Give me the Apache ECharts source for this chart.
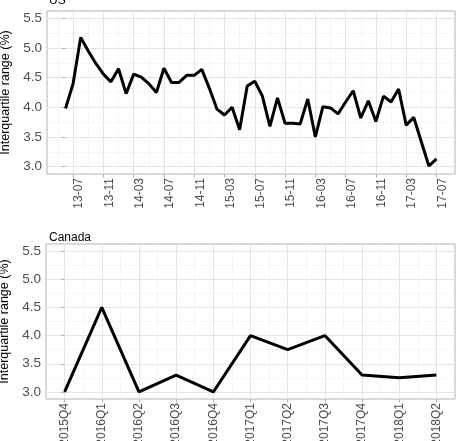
<!DOCTYPE html>
<html>
<head>
<meta charset="utf-8">
<script src="https://cdn.jsdelivr.net/npm/echarts@6/dist/echarts.min.js"></script>
<style>html,body{margin:0;padding:0;background:#fff}#c{width:460px;height:441px}</style>
</head>
<body>
<div id="c"></div>
<script>
const usMonths = ['13-06','13-07','13-08','13-09','13-10','13-11','13-12',
  '14-01','14-02','14-03','14-04','14-05','14-06','14-07','14-08','14-09','14-10','14-11','14-12',
  '15-01','15-02','15-03','15-04','15-05','15-06','15-07','15-08','15-09','15-10','15-11','15-12',
  '16-01','16-02','16-03','16-04','16-05','16-06','16-07','16-08','16-09','16-10','16-11','16-12',
  '17-01','17-02','17-03','17-04','17-05','17-06','17-07'];
const usValues = [3.98,4.40,5.18,4.95,4.74,4.56,4.43,4.65,4.23,4.56,4.51,4.40,4.25,4.66,4.42,4.42,
  4.54,4.54,4.64,4.32,3.97,3.87,4.00,3.62,4.36,4.44,4.19,3.68,4.16,3.73,3.73,3.72,4.14,3.50,
  4.01,3.99,3.89,4.09,4.28,3.82,4.11,3.76,4.19,4.09,4.31,3.70,3.83,3.42,3.01,3.13];
const usTickLabels = ['13-07','13-11','14-03','14-07','14-11','15-03','15-07','15-11','16-03','16-07','16-11','17-03','17-07'];
const caQuarters = ['2015Q4','2016Q1','2016Q2','2016Q3','2016Q4','2017Q1','2017Q2','2017Q3','2017Q4','2018Q1','2018Q2'];
const caValues = [3.0,4.5,3.0,3.3,3.0,4.0,3.75,4.0,3.3,3.25,3.3];
const yTickLabels = [3.0,3.5,4.0,4.5,5.0,5.5];
const yMinorBreaks = [3.25,3.75,4.25,4.75,5.25];

const chart = echarts.init(document.getElementById('c'), null, {renderer:'canvas'});

const usTickIdx = usTickLabels.map(l => usMonths.indexOf(l));
const usMinorIdx = usTickIdx.slice(0,-1).map((v,i)=> (v+usTickIdx[i+1])/2);
usMinorIdx.unshift(usTickIdx[0]-2);
const caTickIdx = caQuarters.map((q,i)=>i);
const caMinorIdx = caTickIdx.slice(0,-1).map(v=>v+0.5);

function expand(lo, hi){ const d=(hi-lo)*0.05; return [lo-d, hi+d]; }
const usX = expand(0, usMonths.length-1);
const caX = expand(0, caQuarters.length-1);
const yR = expand(3.0, 5.5);

const GRID = '#e4e4e4', MINOR = '#f0f0f0', TICK = '#b3b3b3', TXT = '#4d4d4d';
const FONT = 'Liberation Sans, Arial, sans-serif';

function mainX(gi, rng, ticks, fmt, extraLabel){
  return {gridIndex:gi, type:'value', min:rng[0], max:rng[1], position:'bottom',
    axisLine:{show:false},
    axisTick:{show:true, customValues:ticks, length:3.5, lineStyle:{color:TICK, width:1}},
    axisLabel:Object.assign({customValues:ticks, formatter:fmt, rotate:90, fontSize:12, color:TXT, fontFamily:FONT, margin:4}, extraLabel||{}),
    splitLine:{show:true, lineStyle:{color:GRID, width:1}}};
}
function minorX(gi, rng, ticks){
  return {gridIndex:gi, type:'value', min:rng[0], max:rng[1], position:'top',
    axisLine:{show:false}, axisTick:{show:false, customValues:ticks},
    axisLabel:{show:false, customValues:ticks},
    splitLine:{show:true, lineStyle:{color:MINOR, width:0.6}}};
}
function mainY(gi){
  return {gridIndex:gi, type:'value', min:yR[0], max:yR[1], position:'left',
    name:'Interquartile range (%)', nameLocation:'middle', nameGap:29,
    nameTextStyle:{fontSize:12.5, color:'#000', fontFamily:FONT},
    axisLine:{show:false},
    axisTick:{show:true, customValues:yTickLabels, length:3.5, lineStyle:{color:TICK, width:1}},
    axisLabel:{customValues:yTickLabels, formatter:v=>v.toFixed(1), fontSize:13.5, color:TXT, fontFamily:FONT, margin:5},
    splitLine:{show:true, lineStyle:{color:GRID, width:1}}};
}
function minorY(gi){
  return {gridIndex:gi, type:'value', min:yR[0], max:yR[1], position:'right',
    axisLine:{show:false}, axisTick:{show:false, customValues:yMinorBreaks},
    axisLabel:{show:false, customValues:yMinorBreaks},
    splitLine:{show:true, lineStyle:{color:MINOR, width:0.6}}};
}

const option = {
  animation:false,
  backgroundColor:'#fff',
  title:[
    {text:'US', left:44, top:-10, textStyle:{fontSize:12, fontWeight:'normal', color:'#000', fontFamily:FONT}},
    {text:'Canada', left:44, top:227, textStyle:{fontSize:12, fontWeight:'normal', color:'#000', fontFamily:FONT}}
  ],
  grid:[
    {left:47, top:11, width:408, height:163, show:true, borderColor:TICK, borderWidth:1, backgroundColor:'#fff', outerBoundsMode:'none', containLabel:false},
    {left:46, top:244, width:409, height:155, show:true, borderColor:TICK, borderWidth:1, backgroundColor:'#fff', outerBoundsMode:'none', containLabel:false}
  ],
  xAxis:[
    minorX(0, usX, usMinorIdx),
    mainX(0, usX, usTickIdx, v=>usMonths[Math.round(v)], {verticalAlign:'top'}),
    minorX(1, caX, caMinorIdx),
    mainX(1, caX, caTickIdx, v=>caQuarters[Math.round(v)])
  ],
  yAxis:[minorY(0), mainY(0), minorY(1), mainY(1)],
  series:[
    {type:'line', xAxisIndex:1, yAxisIndex:1, data:usValues.map((v,i)=>[i,v]), showSymbol:false,
     lineStyle:{color:'#000', width:3}, itemStyle:{color:'#000'}},
    {type:'line', xAxisIndex:3, yAxisIndex:3, data:caValues.map((v,i)=>[i,v]), showSymbol:false,
     lineStyle:{color:'#000', width:3}, itemStyle:{color:'#000'}}
  ]
};
chart.setOption(option);
</script>
</body>
</html>
